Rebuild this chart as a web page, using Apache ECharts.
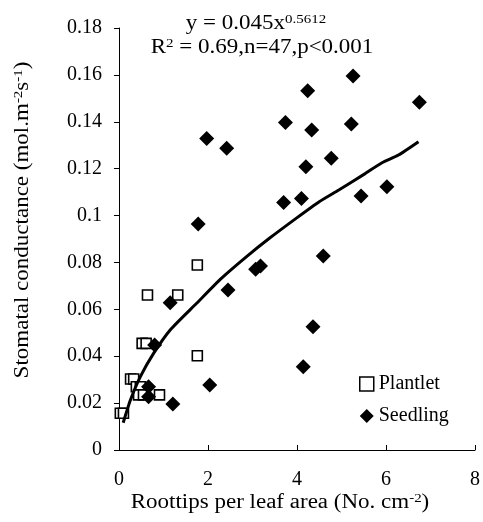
<!DOCTYPE html>
<html>
<head>
<meta charset="utf-8">
<script src="https://cdn.jsdelivr.net/npm/echarts@6/dist/echarts.min.js"></script>
<style>
  html, body { margin: 0; padding: 0; background: #fff; }
  #chart { width: 483px; height: 522px; }
</style>
</head>
<body>
<div id="chart"></div>
<script>
// values
const plantletX = [0.03, 0.10, 0.26, 0.33, 0.39, 0.48, 0.44, 0.55, 0.91, 0.52, 0.61, 0.64, 1.32, 1.76, 1.76];
const plantletY = [0.0157, 0.0157, 0.0303, 0.0303, 0.027, 0.027, 0.0235, 0.0235, 0.0235, 0.0455, 0.0455, 0.0661, 0.0661, 0.0789, 0.0402];

const seedlingX = [1.15, 0.80, 0.665, 0.665, 1.21, 2.04, 5.26, 4.24, 6.75, 3.74, 4.33, 5.22, 1.97, 2.42,
  4.77, 4.20, 6.02, 5.44, 3.70, 4.10, 1.78, 4.59, 3.07, 3.18, 2.45, 4.36, 4.14];
const seedlingY = [0.0628, 0.0448, 0.027, 0.0227, 0.0196, 0.0277, 0.1595, 0.1532, 0.1483, 0.1397, 0.1365, 0.139, 0.1329, 0.1287,
  0.1244, 0.1208, 0.1123, 0.1083, 0.1056, 0.1073, 0.0964, 0.0827, 0.0771, 0.0785, 0.0682, 0.0526, 0.0355];

// fitted curve
const fitX = [0.094, 0.257, 0.48, 0.777, 1.15, 1.745, 2.30, 2.86, 3.38, 3.98, 4.50, 4.94, 5.54, 5.91, 6.28, 6.73];
const fitY = [0.0116, 0.0213, 0.0313, 0.0412, 0.0512, 0.0626, 0.0732, 0.0824, 0.0903, 0.0988, 0.1059, 0.1109, 0.1180, 0.1225, 0.1258, 0.1315];

const xTicks = [0, 2, 4, 6, 8];
const yTicks = [0, 0.02, 0.04, 0.06, 0.08, 0.1, 0.12, 0.14, 0.16, 0.18];

const zip = (a, b) => a.map((v, i) => [v, b[i]]);
const font = 'Liberation Serif';

const chart = echarts.init(document.getElementById('chart'));

const richBase = {
  a: { fontFamily: font, fontSize: 20, lineHeight: 22, fill: '#000', color: '#000' },
  s: { fontFamily: font, fontSize: 13, lineHeight: 13, verticalAlign: 'top', fill: '#000', color: '#000' }
};

function label(x, y, text, opts) {
  return Object.assign({
    type: 'text',
    x: x, y: y,
    scaleX: 1.15,
    style: { text: text, rich: richBase, align: 'center', verticalAlign: 'middle', fill: '#000' }
  }, opts || {});
}

const option = {
  backgroundColor: '#fff',
  animation: false,
  grid: { left: 119, right: 6, top: 28, bottom: 72 },
  xAxis: {
    type: 'value',
    min: xTicks[0],
    max: xTicks[xTicks.length - 1],
    interval: 2,
    axisLine: { lineStyle: { color: '#000', width: 1 } },
    axisTick: { inside: true, length: 5, lineStyle: { color: '#000' } },
    axisLabel: { margin: 20, fontFamily: font, fontSize: 20, color: '#000' },
    splitLine: { show: false }
  },
  yAxis: {
    type: 'value',
    min: yTicks[0],
    max: yTicks[yTicks.length - 1],
    interval: 0.02,
    axisLine: { show: true, lineStyle: { color: '#000', width: 1 } },
    axisTick: { show: true, inside: false, length: 5, lineStyle: { color: '#000' } },
    axisLabel: {
      margin: 17, fontFamily: font, fontSize: 20, color: '#000',
      formatter: v => String(+v.toFixed(2))
    },
    splitLine: { show: false }
  },
  legend: {
    orient: 'vertical',
    left: 354,
    top: 369,
    itemWidth: 14,
    itemHeight: 14,
    itemGap: 12,
    textStyle: { fontFamily: font, fontSize: 20, lineHeight: 20, color: '#000', padding: [0, 0, 0, 0] },
    data: [
      { name: 'Plantlet', icon: 'rect', itemStyle: { color: '#fff', borderColor: '#000', borderWidth: 1.5 } },
      { name: 'Seedling', icon: 'diamond', itemStyle: { color: '#000' } }
    ]
  },
  series: [
    {
      name: 'Plantlet',
      type: 'scatter',
      symbol: 'rect',
      symbolSize: 10,
      itemStyle: { color: '#fff', borderColor: '#000', borderWidth: 1.6, opacity: 1 },
      z: 2,
      data: zip(plantletX, plantletY)
    },
    {
      name: 'Seedling',
      type: 'scatter',
      symbol: 'diamond',
      symbolSize: 15,
      itemStyle: { color: '#000', opacity: 1 },
      z: 3,
      data: zip(seedlingX, seedlingY)
    },
    {
      name: 'fit',
      type: 'line',
      showSymbol: false,
      smooth: 0.2,
      lineStyle: { color: '#000', width: 3 },
      z: 4,
      data: zip(fitX, fitY)
    }
  ],
  graphic: [
    label(256, 24, '{a|y = 0.045x}{s|0.5612}'),
    label(262, 48, '{a|R}{s|2}{a| = 0.69,n=47,p<0.001}'),
    label(280, 503, '{a|Roottips per leaf area (No. cm}{s|-2}{a|)}'),
    label(23, 220, '{a|Stomatal conductance (mol.m}{s|-2}{a|s}{s|-1}{a|)}', { rotation: Math.PI / 2 })
  ]
};

chart.setOption(option);
</script>
</body>
</html>
